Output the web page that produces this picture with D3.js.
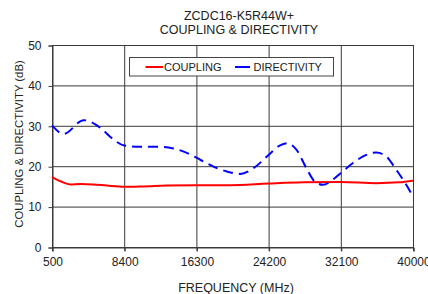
<!DOCTYPE html>
<html>
<head>
<meta charset="utf-8">
<script src="https://cdn.jsdelivr.net/npm/d3@7"></script>
<style>
  html, body { margin: 0; padding: 0; background: #fff; }
  svg { display: block; font-family: "Liberation Sans", Arial, sans-serif; }
</style>
</head>
<body>
<svg id="chart" width="428" height="294"></svg>
<script>
const titleLines = ["ZCDC16-K5R44W+", "COUPLING & DIRECTIVITY"];
const xTitle = "FREQUENCY (MHz)";
const yTitle = "COUPLING & DIRECTIVITY (dB)";
const xTicks = [500, 8400, 16300, 24200, 32100, 40000];
const yTicks = [0, 10, 20, 30, 40, 50];

const couplingFreq = [500, 1500, 2500, 3600, 5000, 6500, 8400, 10500, 13000, 16300, 20000, 24200, 28000, 32100, 36000, 38500, 40000];
const couplingVal  = [17.3, 16.2, 15.5, 15.6, 15.5, 15.2, 14.9, 15.0, 15.2, 15.3, 15.3, 15.7, 16.0, 16.1, 15.8, 16.0, 16.4];

const directivityFreq = [500, 1770, 3960, 5780, 7230, 8400, 10150, 12330, 13780, 15250, 16720, 18170, 19630, 21090, 22550, 24200, 25400, 26220, 27240, 28340, 29250, 30160, 31250, 32100, 33430, 34890, 35980, 37080, 38170, 39260, 40000];
const directivityVal  = [30.1, 28.0, 31.4, 29.5, 26.6, 25.1, 24.8, 24.8, 24.4, 23.3, 21.6, 19.9, 18.7, 18.1, 19.5, 22.8, 25.1, 25.7, 24.1, 19.5, 16.2, 15.4, 16.7, 18.3, 20.8, 22.8, 23.4, 22.4, 19.1, 15.4, 12.5];

const series = [
  { name: "COUPLING", freq: couplingFreq, val: couplingVal, color: "#ff0000", dash: null },
  { name: "DIRECTIVITY", freq: directivityFreq, val: directivityVal, color: "#0000ff", dash: "10,6" }
];

const svg = d3.select("#chart");
const m = { left: 52, right: 413, top: 45, bottom: 247 };
const x = d3.scaleLinear().domain([500, 40000]).range([m.left, m.right]);
const y = d3.scaleLinear().domain([0, 50]).range([m.bottom, m.top]);
const gridColor = "#3a3a3a";

// grid
svg.append("g").selectAll("line").data(yTicks).join("line")
  .attr("x1", m.left).attr("x2", m.right)
  .attr("y1", d => y(d) + 0.5).attr("y2", d => y(d) + 0.5)
  .attr("stroke", gridColor).attr("stroke-width", 1);
svg.append("g").selectAll("line").data(xTicks).join("line")
  .attr("y1", m.top).attr("y2", m.bottom + 4)
  .attr("x1", d => x(d) + 0.5).attr("x2", d => x(d) + 0.5)
  .attr("stroke", gridColor).attr("stroke-width", 1);

// axes
const yAxis = svg.append("g").attr("transform", `translate(${m.left + 0.5},0.5)`)
  .call(d3.axisLeft(y).tickValues(yTicks).tickSize(4).tickPadding(7).tickFormat(d3.format("d")));
const xAxis = svg.append("g").attr("transform", `translate(0.5,${m.bottom + 0.5})`)
  .call(d3.axisBottom(x).tickValues(xTicks).tickSize(4).tickPadding(6).tickFormat(d3.format("d")));
[yAxis, xAxis].forEach(g => {
  g.select(".domain").attr("stroke", gridColor);
  g.selectAll(".tick line").attr("stroke", gridColor);
  g.selectAll("text").attr("fill", "#222").style("font-size", "12px").style("font-family", '"Liberation Sans", Arial, sans-serif');
});

// lines
const line = d3.line().x(d => x(d[0])).y(d => y(d[1])).curve(d3.curveMonotoneX);
series.forEach(s => {
  const pts = s.freq.map((f, i) => [f, s.val[i]]);
  svg.append("path").datum(pts)
    .attr("d", line)
    .attr("fill", "none")
    .attr("stroke", s.color)
    .attr("stroke-width", 2)
    .attr("stroke-dasharray", s.dash);
});

// legend
const lg = svg.append("g");
lg.append("rect").attr("x", 129.5).attr("y", 57.5).attr("width", 204).attr("height", 18.5)
  .attr("fill", "#fff").attr("stroke", "#444").attr("stroke-width", 1);
const legendPos = [{ x1: 145.5, x2: 163, tx: 164 }, { x1: 235, x2: 250, tx: 253.5 }];
series.forEach((s, i) => {
  const p = legendPos[i];
  lg.append("line").attr("x1", p.x1).attr("x2", p.x2).attr("y1", 67).attr("y2", 67)
    .attr("stroke", s.color).attr("stroke-width", 2);
  lg.append("text").attr("x", p.tx).attr("y", 71).text(s.name)
    .style("font-size", "11px").attr("fill", "#222");
});

// titles
svg.append("g").selectAll("text").data(titleLines).join("text")
  .attr("x", 239).attr("y", (d, i) => 19.5 + i * 14)
  .attr("text-anchor", "middle").style("font-size", "12.5px").attr("fill", "#222")
  .text(d => d);
svg.append("text").attr("x", 236).attr("y", 291.5).attr("text-anchor", "middle")
  .style("font-size", "12.5px").attr("fill", "#222").text(xTitle);
svg.append("text").attr("transform", "translate(22.5,144) rotate(-90)").attr("text-anchor", "middle")
  .style("font-size", "11.3px").attr("fill", "#222").text(yTitle);
</script>
</body>
</html>
